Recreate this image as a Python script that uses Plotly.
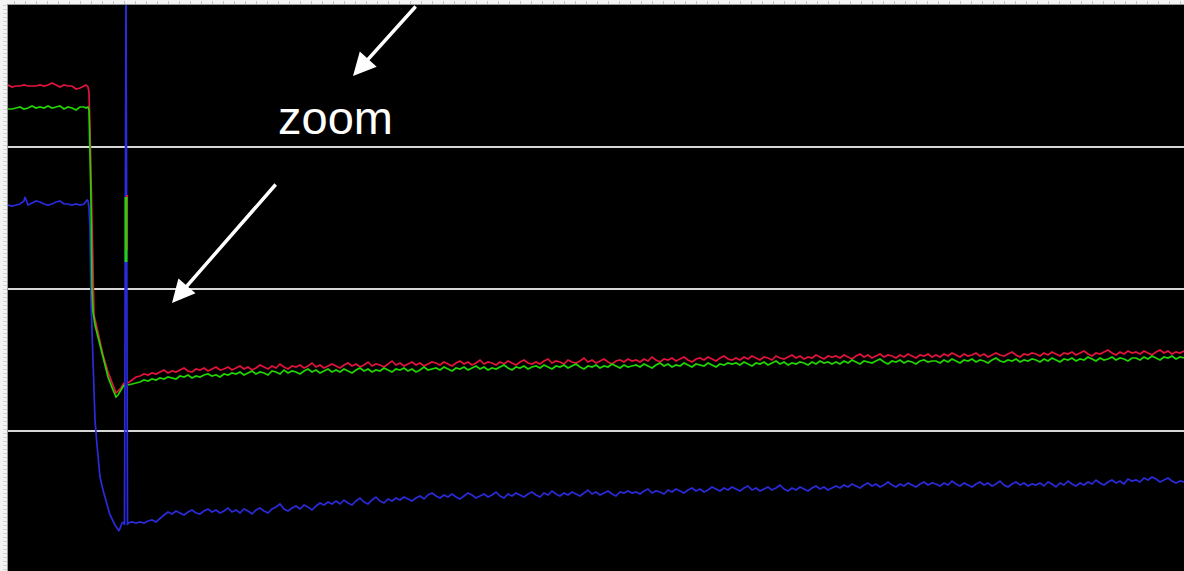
import plotly.graph_objects as go

# Scope capture: three channels, raw ADC counts vs. sample index.
# A step drop near t=82 and a short glitch near t=118 are part of the record.

# --- red channel -----------------------------------------------------------
t_red_head = [0, 4, 8, 12, 16, 20, 24, 28, 32, 36, 40, 44, 48, 52, 56, 60, 64, 68, 72, 76, 78, 80,
              81, 82, 83, 84, 85, 86, 89, 92, 95, 100, 105, 108, 110, 113, 116]
v_red_head = [488, 486, 487, 487, 488, 487, 487, 487, 488, 487, 488, 490, 488, 486, 488, 487, 487, 484, 485, 487, 488, 486,
              481, 445, 393, 338, 273, 258, 245, 231, 218, 201, 187, 180, 182, 185, 190]
t_red_glitch = [119, 119]
v_red_glitch = [378, 323]
v_red_tail = [190, 193,
              196, 197, 199, 198, 200, 199, 201, 203, 200, 202, 201, 203, 205, 202, 201, 204, 203, 205, 202, 204, 206, 203, 204, 206, 203,
              205, 207, 204, 206, 203, 205, 208, 206, 204, 207, 205, 209, 206, 204, 207, 206, 208, 205, 207, 210, 206, 208, 205, 207, 209,
              207, 205, 208, 210, 207, 209, 206, 208, 211, 207, 209, 208, 206, 209, 212, 208, 210, 207, 209, 211, 208, 210, 207, 209, 211,
              210, 208, 211, 209, 207, 210, 212, 209, 211, 208, 210, 213, 209, 211, 210, 208, 211, 209, 212, 210, 208, 211, 213, 210, 209,
              211, 209, 212, 214, 210, 212, 211, 209, 213, 211, 210, 212, 215, 211, 213, 210, 212, 214, 211, 209, 212, 213, 211, 214, 212,
              213, 211, 214, 212, 216, 213, 211, 214, 213, 215, 212, 214, 216, 213, 211, 214, 215, 213, 216, 214, 212, 215, 217, 214, 213,
              215, 213, 216, 214, 217, 215, 213, 216, 215, 213, 217, 215, 214, 216, 218, 215, 217, 214, 216, 215, 218, 216, 214, 217, 216,
              217, 215, 218, 216, 214, 217, 219, 216, 218, 215, 217, 219, 216, 218, 217, 215, 218, 216, 219, 217, 215, 218, 217, 219, 216,
              218, 216, 219, 217, 220, 218, 216, 219, 217, 218, 220, 217, 219, 216, 218, 220, 218, 217, 219, 221, 218, 216, 219, 218, 220,
              219, 217, 220, 218, 221, 219, 217, 220, 219, 221, 218, 220, 222, 219, 217, 220, 219, 221, 223, 220, 218, 221, 219, 222, 220,
              221, 219, 222, 220, 218, 221, 223, 220, 222, 219, 221, 220, 222]

# --- green channel ---------------------------------------------------------
t_green_head = [0, 4, 8, 12, 16, 20, 24, 28, 32, 36, 40, 44, 48, 52, 56, 60, 64, 68, 72, 76, 78, 80,
                81, 81.5, 83, 84, 85, 87, 89, 92, 95, 100, 105, 108, 110, 113, 116]
v_green_head = [464, 464, 465, 466, 464, 465, 467, 465, 466, 465, 467, 465, 466, 467, 464, 466, 465, 463, 466, 466, 465, 466,
                463, 446, 373, 283, 261, 248, 240, 226, 213, 196, 183, 176, 178, 183, 188]
t_green_glitch = [118, 118]
v_green_glitch = [376, 311]
v_green_tail = [188, 189,
                190, 191, 193, 192, 194, 193, 195, 194, 196, 195, 194, 197, 196, 198, 195, 197, 196, 198, 199, 197, 198, 196, 199, 198, 200,
                199, 201, 198, 200, 202, 199, 201, 200, 198, 202, 201, 199, 203, 200, 202, 201, 199, 202, 204, 201, 203, 200, 202, 204, 201,
                203, 201, 204, 202, 200, 203, 205, 202, 204, 201, 203, 202, 205, 203, 201, 204, 203, 205, 202, 204, 201, 203, 206, 203, 204,
                205, 203, 206, 204, 202, 205, 204, 206, 203, 205, 207, 204, 206, 203, 205, 204, 206, 208, 205, 203, 206, 205, 207, 204, 206,
                207, 205, 208, 206, 204, 207, 206, 208, 205, 207, 209, 206, 204, 207, 206, 208, 205, 207, 206, 209, 207, 205, 208, 206, 207,
                208, 206, 209, 207, 205, 208, 210, 207, 209, 206, 208, 207, 210, 208, 206, 209, 208, 207, 210, 208, 206, 209, 208, 210, 209,
                210, 208, 211, 209, 207, 210, 209, 211, 208, 210, 212, 209, 211, 208, 210, 209, 211, 210, 208, 211, 209, 212, 210, 211, 209,
                211, 209, 212, 210, 213, 211, 209, 212, 211, 210, 212, 214, 211, 209, 212, 211, 213, 210, 212, 211, 209, 212, 213, 211, 212,
                212, 210, 213, 211, 214, 212, 210, 213, 212, 214, 211, 213, 212, 210, 213, 215, 212, 211, 213, 212, 214, 211, 213, 212, 214,
                213, 211, 214, 212, 215, 213, 211, 214, 213, 215, 212, 214, 213, 216, 214, 212, 215, 213, 214, 216, 213, 215, 214, 212, 215,
                215, 213, 216, 214, 217, 215, 213, 216, 215, 217, 214, 216, 215]

# --- blue channel ----------------------------------------------------------
t_blue_head = [0, 4, 8, 12, 16, 17, 20, 24, 28, 32, 36, 40, 44, 48, 52, 56, 60, 64, 68, 72, 76, 79, 80,
               81, 82, 83, 84, 85, 86, 87, 89, 92, 95, 99, 102, 107, 111, 114, 116, 116.5,
               118, 119.5]
v_blue_head = [368, 367, 368, 369, 372, 376, 368, 370, 372, 371, 369, 368, 369, 371, 372, 369, 369, 368, 369, 368, 369, 373, 372,
               366, 343, 273, 238, 208, 183, 153, 128, 96, 83, 70, 58, 48, 42, 50, 51, 48,
               600, 48]
v_blue_tail = [50, 51,
               50, 51, 50, 52, 53, 51, 55, 58, 61, 59, 62, 60, 58, 61, 63, 60, 59, 62, 64, 61, 63, 60, 62, 65, 61,
               63, 60, 64, 62, 59, 63, 65, 62, 60, 64, 66, 69, 64, 62, 65, 67, 64, 68, 66, 63, 67, 70, 68, 71, 69,
               72, 69, 73, 70, 68, 72, 75, 71, 69, 73, 76, 72, 70, 74, 72, 75, 73, 76, 74, 72, 75, 77, 74, 78, 80,
               77, 75, 78, 76, 79, 76, 74, 77, 80, 78, 75, 77, 79, 76, 78, 81, 77, 75, 79, 77, 80, 78, 76, 79, 81,
               78, 76, 80, 78, 82, 79, 77, 80, 78, 81, 79, 77, 80, 83, 79, 81, 78, 80, 82, 79, 77, 81, 80, 82, 80,
               81, 79, 82, 84, 80, 82, 81, 79, 83, 81, 84, 82, 80, 83, 85, 82, 84, 81, 83, 86, 84, 82, 85, 83, 86,
               84, 82, 85, 87, 83, 85, 82, 84, 86, 83, 85, 88, 84, 82, 85, 83, 86, 84, 82, 85, 87, 84, 86, 83, 85,
               87, 85, 88, 86, 89, 87, 85, 88, 90, 87, 89, 86, 88, 91, 88, 86, 89, 87, 90, 88, 86, 89, 91, 88, 90,
               89, 87, 90, 88, 92, 89, 87, 90, 88, 86, 89, 91, 88, 90, 87, 89, 92, 88, 86, 89, 91, 88, 90, 87, 89,
               88, 90, 87, 91, 89, 86, 90, 88, 92, 89, 87, 90, 88, 91, 89, 93, 90, 88, 91, 93, 90, 92, 89, 94, 92,
               93, 91, 95, 93, 96, 94, 91, 93, 95, 92, 90, 92, 91]

# After the glitch every channel is sampled every 4 ticks from t=120.
TAIL_START, TAIL_STEP = 120, 4


def tail_times(values):
    return [TAIL_START + TAIL_STEP * k for k in range(len(values))]


t_red_tail = tail_times(v_red_tail)
t_green_tail = tail_times(v_green_tail)
t_blue_tail = tail_times(v_blue_tail)


def joined(*parts):
    """Concatenate segments with a None break between them."""
    xs, ys = [], []
    for i, (x, y) in enumerate(parts):
        if i:
            xs.append(None)
            ys.append(None)
        xs += list(x)
        ys += list(y)
    return xs, ys


RED, GREEN, BLUE = "#e3143c", "#22d400", "#2b2bdc"
LW = 1.7

rx, ry = joined((t_red_head, v_red_head), (t_red_tail, v_red_tail))
gx, gy = joined((t_green_head, v_green_head), (t_green_tail, v_green_tail))

fig = go.Figure()
fig.add_trace(go.Scatter(x=t_blue_head + t_blue_tail, y=v_blue_head + v_blue_tail, mode="lines",
                         line=dict(color=BLUE, width=LW)))
fig.add_trace(go.Scatter(x=rx, y=ry, mode="lines", line=dict(color=RED, width=LW), connectgaps=False))
fig.add_trace(go.Scatter(x=gx, y=gy, mode="lines", line=dict(color=GREEN, width=LW), connectgaps=False))
# glitch segments, drawn a little heavier
fig.add_trace(go.Scatter(x=t_red_glitch, y=v_red_glitch, mode="lines", line=dict(color=RED, width=2)))
fig.add_trace(go.Scatter(x=t_green_glitch, y=v_green_glitch, mode="lines", line=dict(color=GREEN, width=3)))

arrow = dict(showarrow=True, text="", arrowhead=2, arrowsize=1.3, arrowwidth=3.5,
             arrowcolor="white", xref="x", yref="y", axref="pixel", ayref="pixel", standoff=0)
fig.add_annotation(x=345, y=497, ax=64, ay=-71, **arrow)
fig.add_annotation(x=164, y=270, ax=105, ay=-120, **arrow)
fig.add_annotation(x=327, y=456, text="zoom", showarrow=False, xanchor="center", yanchor="middle",
                   font=dict(family="Liberation Sans, Arial, sans-serif", size=47, color="white"))

fig.update_layout(
    width=1184, height=571,
    margin=dict(l=8, r=0, t=5, b=0),
    paper_bgcolor="#f3f3f3", plot_bgcolor="black",
    showlegend=False,
    xaxis=dict(range=[0, 1176], side="top", showgrid=False, zeroline=False, showticklabels=False,
               ticks="outside", ticklen=3, tickcolor="#c4c4c4", tick0=6, dtick=11,
               showline=True, linecolor="#9a9a9a", linewidth=1),
    yaxis=dict(range=[2, 568], showgrid=True, gridcolor="#d6d6d6", gridwidth=2,
               tickmode="array", tickvals=[142, 284, 426], showticklabels=False,
               zeroline=False, ticks="", showline=True, linecolor="#9a9a9a", linewidth=1),
    yaxis2=dict(overlaying="y", range=[2, 568], showgrid=False, showticklabels=False, zeroline=False,
                ticks="outside", ticklen=4, tickcolor="#d2d2d2", tick0=0, dtick=4),
)
# invisible carrier trace so the dotted left-edge ticks are drawn
fig.add_trace(go.Scatter(x=[None], y=[None], yaxis="y2", hoverinfo="skip"))

fig.write_html("out.html")
